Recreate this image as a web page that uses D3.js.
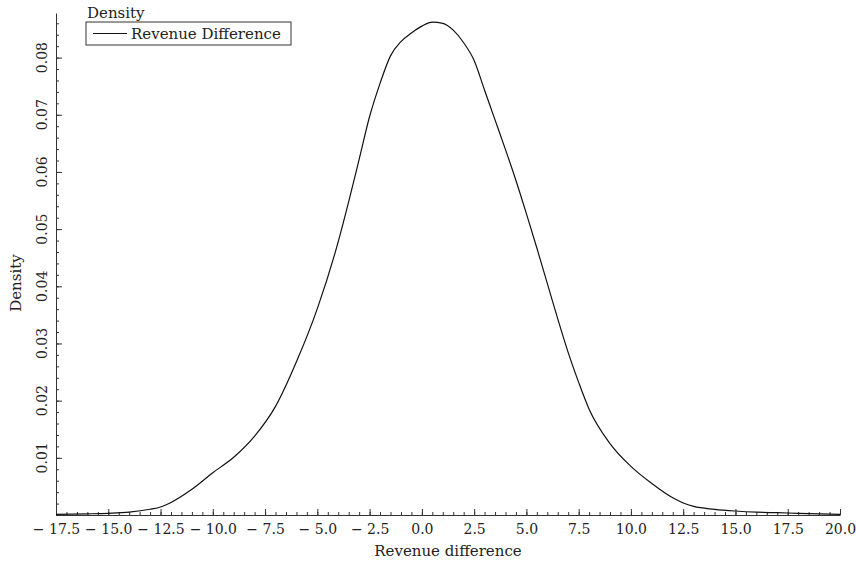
<!DOCTYPE html>
<html>
<head>
<meta charset="utf-8">
<script src="https://cdn.jsdelivr.net/npm/d3@7"></script>
<style>
  body { margin: 0; background: #fff; }
  svg text { font-family: "DejaVu Serif", "Liberation Serif", serif; fill: #222; }
</style>
</head>
<body>
<svg id="chart" width="856" height="568"></svg>
<script>
// kde of revenue difference
const diffX = [-17.5, -16, -15, -14, -13, -12.5, -12, -11, -10, -9, -8, -7, -6, -5, -4, -3.5, -3, -2.5, -2, -1.5, -1, -0.5,
               0, 0.5, 1, 1.5, 2, 2.5, 3, 3.5, 4, 4.5, 5, 5.5, 6, 6.5, 7, 7.5, 8, 9, 10, 11, 12, 12.5, 13, 14, 15, 16, 17, 18, 19, 20];
const densY = [0.0001, 0.0002, 0.0003, 0.0005, 0.0010, 0.0014, 0.0022, 0.0045, 0.0074, 0.0101, 0.0138, 0.0190, 0.0268, 0.0361, 0.0478, 0.0548, 0.0622, 0.0697, 0.0755, 0.0803, 0.0828, 0.0843,
               0.0855, 0.0862, 0.0860, 0.0848, 0.0826, 0.0795, 0.0743, 0.0691, 0.0639, 0.0585, 0.0527, 0.0467, 0.0405, 0.0343, 0.0284, 0.0232, 0.0185, 0.0125, 0.0085, 0.0055, 0.0030, 0.0021, 0.0015, 0.0010, 0.0007, 0.0005, 0.0004, 0.0003, 0.0002, 0.0001];
const xTicks = d3.range(-17.5, 20.01, 2.5);
const yTicks = [0.01, 0.02, 0.03, 0.04, 0.05, 0.06, 0.07, 0.08];
const seriesName = "Revenue Difference";

const svg = d3.select("#chart");

const x = d3.scaleLinear().domain([-17.5, 20]).range([56, 840]);
const y = d3.scaleLinear().domain([0, 0.0878]).range([515, 13]);

const fmtX = v => (v < 0 ? "\u2212 " : "") + Math.abs(v).toFixed(1);

// x axis, ticks point inward
svg.append("g")
    .attr("transform", "translate(0,515)")
    .call(d3.axisBottom(x).tickValues(d3.range(-17.5, 20.01, 0.5)).tickSize(-3).tickFormat(""))
    .call(g => g.select(".domain").remove());
svg.append("g")
    .attr("transform", "translate(0,515)")
    .call(d3.axisBottom(x).tickValues(xTicks).tickSize(-6).tickSizeOuter(0).tickPadding(9).tickFormat(fmtX))
    .call(g => g.selectAll("text").style("font-size", "14px"));

// y axis
svg.append("g")
    .attr("transform", "translate(56,0)")
    .call(d3.axisLeft(y).tickValues(d3.range(0, 0.0878, 0.002)).tickSize(-3).tickFormat(""))
    .call(g => g.select(".domain").remove());
svg.append("g")
    .attr("transform", "translate(56,0)")
    .call(d3.axisLeft(y).tickValues(yTicks).tickSize(-6).tickSizeOuter(0).tickFormat(""));

svg.selectAll(".ylab")
    .data(yTicks)
    .join("text")
    .attr("class", "ylab")
    .attr("transform", d => "translate(47," + y(d) + ") rotate(-90)")
    .attr("text-anchor", "middle")
    .style("font-size", "14px")
    .text(d => d.toFixed(2));

svg.selectAll(".domain, .tick line").attr("stroke", "#333");

// density curve
const line = d3.line()
    .x((d, i) => x(diffX[i]))
    .y(d => y(d))
    .curve(d3.curveMonotoneX);

svg.append("path")
    .datum(densY)
    .attr("d", line)
    .attr("fill", "none")
    .attr("stroke", "#111")
    .attr("stroke-width", 1.2);

// axis titles
svg.append("text")
    .attr("x", 448).attr("y", 556)
    .attr("text-anchor", "middle")
    .style("font-size", "15px")
    .text("Revenue difference");

svg.append("text")
    .attr("transform", "translate(21,283) rotate(-90)")
    .attr("text-anchor", "middle")
    .style("font-size", "15px")
    .text("Density");

// legend
svg.append("text")
    .attr("x", 87).attr("y", 18)
    .style("font-size", "15px")
    .text("Density");
svg.append("rect")
    .attr("x", 86).attr("y", 22).attr("width", 205).attr("height", 23)
    .attr("fill", "#fff").attr("stroke", "#333");
svg.append("line")
    .attr("x1", 93).attr("x2", 127).attr("y1", 33.5).attr("y2", 33.5)
    .attr("stroke", "#111").attr("stroke-width", 1.2);
svg.append("text")
    .attr("x", 131).attr("y", 39)
    .style("font-size", "15px")
    .text(seriesName);
</script>
</body>
</html>
